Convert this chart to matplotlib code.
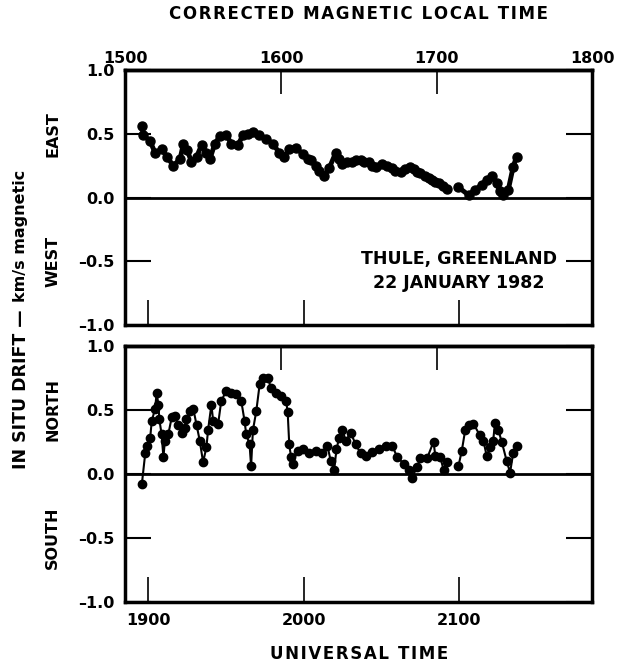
import numpy as np
import matplotlib.pyplot as plt

plt.rcParams['font.family'] = ['DejaVu Sans']
plt.rcParams['font.weight'] = 'bold'
plt.rcParams['axes.labelweight'] = 'bold'

# time in minutes after 1800 UT
ew_t = [57.6, 58.2, 60.8, 62.7, 65.2, 67.2, 69.7, 72.3, 73.6, 75.1, 76.7, 78.7,
        80.6, 82.5, 83.8, 85.7, 87.6, 90.2, 92.1, 94.6, 96.6, 98.5, 100.4, 102.9,
        105.5, 108.1, 110.6, 112.5, 114.4, 117.0, 119.6, 121.5, 122.8, 124.7, 125.9,
        127.9, 129.8, 132.3, 133.6, 134.9, 136.8, 138.7, 140.0, 141.9, 143.2, 145.1,
        146.4, 147.7, 150.2, 152.1, 154.1, 155.3, 157.3, 159.2, 161.1, 162.4, 163.6,
        164.9, 166.8, 168.1, 169.4, 170.7, 172.0, 173.5, 175.2, 177.0, 179.6, 183.5,
        186.0, 188.6, 190.5, 192.4, 194.3, 195.6, 196.9, 198.8, 200.7, 202.0]
ew_v = [0.56, 0.49, 0.44, 0.35, 0.38, 0.32, 0.25, 0.30, 0.42, 0.37, 0.28, 0.32,
        0.41, 0.35, 0.30, 0.42, 0.48, 0.49, 0.42, 0.41, 0.49, 0.50, 0.51, 0.49,
        0.46, 0.42, 0.35, 0.32, 0.38, 0.39, 0.34, 0.30, 0.29, 0.25, 0.21,
        0.17, 0.23, 0.35, 0.30, 0.26, 0.28, 0.28, 0.29, 0.29, 0.28, 0.28,
        0.25, 0.24, 0.26, 0.25, 0.23, 0.21, 0.20, 0.22, 0.24, 0.22, 0.20,
        0.19, 0.17, 0.15, 0.14, 0.12, 0.11, 0.09, 0.07, np.nan, 0.08, 0.02,
        0.06, 0.10, 0.14, 0.17, 0.11, 0.05, 0.02, 0.06, 0.24, 0.32]

ns_t = [57.6, 58.9, 59.5, 60.8, 61.4, 62.7, 63.3, 64.0, 64.3, 65.2, 65.9, 66.5,
        67.8, 69.1, 70.4, 71.6, 72.9, 74.2, 74.8, 76.1, 77.4, 78.7, 79.9, 81.2,
        82.5, 83.1, 84.4, 85.1, 87.0, 88.2, 90.2, 92.1, 94.0, 95.9, 97.2, 97.8,
        99.1, 99.7, 100.4, 101.7, 103.0, 104.2, 106.1, 107.4, 109.3, 111.3, 113.2,
        113.8, 114.4, 115.1, 115.7, 117.6, 119.6, 122.1, 124.7, 127.2, 129.1, 130.4,
        131.7, 132.6, 133.6, 134.9, 136.2, 138.1, 140.0, 141.9, 143.8, 146.4, 149.0,
        151.5, 154.1, 156.0, 158.5, 160.5, 161.7, 163.6, 164.9, 167.5, 170.0, 170.7,
        172.6, 173.9, 175.2, 177.0, 179.6, 180.9, 182.2, 183.5, 185.4, 187.9, 189.2,
        190.5, 191.8, 193.0, 193.7, 195.0, 196.3, 198.2, 199.5, 200.7, 202.0]
ns_v = [-0.08, 0.16, 0.22, 0.28, 0.41, 0.51, 0.63, 0.54, 0.43, 0.31, 0.13, 0.26,
        0.31, 0.44, 0.45, 0.38, 0.32, 0.36, 0.43, 0.49, 0.51, 0.38, 0.26, 0.09,
        0.21, 0.34, 0.54, 0.41, 0.39, 0.57, 0.65, 0.63, 0.62, 0.57, 0.41, 0.31,
        0.23, 0.06, 0.34, 0.49, 0.70, 0.75, 0.75, 0.67, 0.63, 0.61, 0.57,
        0.48, 0.23, 0.13, 0.08, 0.18, 0.19, 0.16, 0.18, 0.16, 0.22, 0.10,
        0.03, 0.19, 0.28, 0.34, 0.26, 0.32, 0.23, 0.16, 0.14, 0.17, 0.19,
        0.22, 0.22, 0.13, 0.08, 0.03, -0.03, 0.05, 0.12, 0.12, 0.25, 0.14,
        0.13, 0.03, 0.09, np.nan, 0.06, 0.18, 0.34, 0.38, 0.39, 0.30, 0.26,
        0.14, 0.21, 0.26, 0.40, 0.34, 0.25, 0.10, 0.01, 0.16, 0.22]

ut_ticks = [60, 120, 180]
ut_labels = ['1900', '2000', '2100']
cmlt_ticks = [0, 60, 120, 180]
cmlt_labels = ['1500', '1600', '1700', '1800']
cmlt_offset = 51.2
y_ticks = [-1.0, -0.5, 0.0, 0.5, 1.0]


def spaced(s):
    # old typeset captions have loose letter spacing
    return '\u200a'.join(s)


fig = plt.figure(figsize=(6.17, 6.65), dpi=100)
ax1 = fig.add_axes([0.203, 0.511, 0.757, 0.384])
ax2 = fig.add_axes([0.203, 0.095, 0.757, 0.385])

secs = []
for ax in (ax1, ax2):
    ax.set_xlim(cmlt_offset, cmlt_offset + 180)
    ax.set_ylim(-1, 1)
    ax.axhline(0, color='black', lw=2)
    for s in ax.spines.values():
        s.set_linewidth(2.5)
    ax.set_yticks(y_ticks)
    ax.set_yticklabels([f'{v:.1f}'.replace('-', '\u2013') for v in y_ticks])
    ax.tick_params(axis='y', which='both', direction='in', length=19, width=1.5,
                   left=True, right=True, labelsize=11.5, pad=8)
    ax.set_xticks(ut_ticks)
    ax.tick_params(axis='x', direction='in', length=18, width=1.2, labelsize=11.5, pad=8)
    sec = ax.secondary_xaxis('top', functions=(lambda t: t - cmlt_offset,
                                              lambda c: c + cmlt_offset))
    sec.set_xticks(cmlt_ticks)
    sec.tick_params(direction='in', length=17, width=1.2, labelsize=11.5, pad=3)
    sec.spines['top'].set_linewidth(2.5)
    secs.append(sec)

secs[0].set_xticklabels(cmlt_labels)
secs[1].set_xticklabels([])
ax1.set_xticklabels([])
ax2.set_xticklabels(ut_labels)

ax1.plot(ew_t, ew_v, color='black', lw=3.5, marker='o', ms=6.5)
ax2.plot(ns_t, ns_v, color='black', lw=1.5, marker='o', ms=6)

ax1.text(0.5, 1.22, spaced('CORRECTED MAGNETIC LOCAL TIME'), transform=ax1.transAxes,
         ha='center', va='center', fontsize=12)
ax2.set_xlabel(spaced('UNIVERSAL TIME'), fontsize=12, labelpad=12)

ax1.text(0.715, -0.575, 'THULE, GREENLAND\n22 JANUARY 1982', transform=ax1.get_yaxis_transform(),
         ha='center', va='center', fontsize=12.5, linespacing=1.45)

side_x = -0.155
ax1.text(side_x, 0.5, 'EAST', transform=ax1.get_yaxis_transform(), rotation=90,
         ha='center', va='center', fontsize=11.5)
ax1.text(side_x, -0.5, 'WEST', transform=ax1.get_yaxis_transform(), rotation=90,
         ha='center', va='center', fontsize=11.5)
ax2.text(side_x, 0.5, 'NORTH', transform=ax2.get_yaxis_transform(), rotation=90,
         ha='center', va='center', fontsize=11.5)
ax2.text(side_x, -0.5, 'SOUTH', transform=ax2.get_yaxis_transform(), rotation=90,
         ha='center', va='center', fontsize=11.5)

fig.text(0.034, 0.543, 'IN SITU DRIFT \u2014 ', rotation=90, ha='center', va='top', fontsize=12.5)
fig.text(0.034, 0.546, 'km/s magnetic', rotation=90, ha='center', va='bottom', fontsize=11.5)

fig.savefig('out.png', dpi=100)
